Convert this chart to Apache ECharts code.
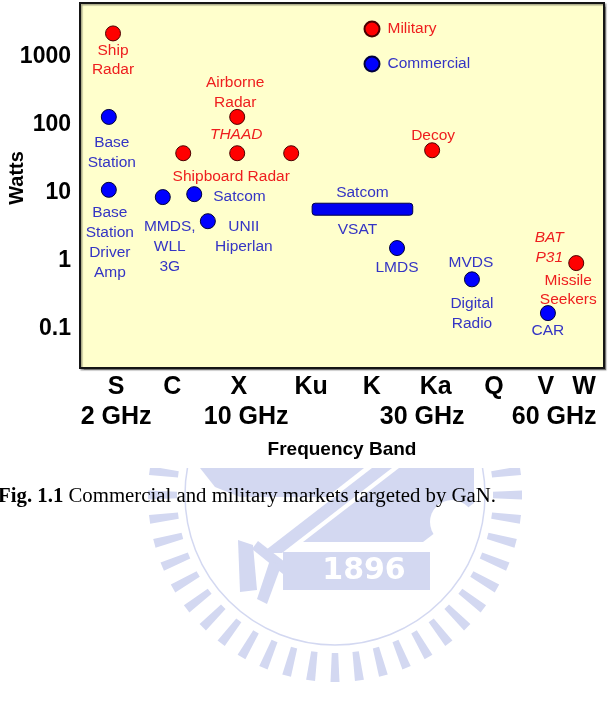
<!DOCTYPE html>
<html><head><meta charset="utf-8">
<script src="https://cdn.jsdelivr.net/npm/echarts@6/dist/echarts.min.js"></script>
<style>html,body{margin:0;padding:0;background:#fff}#c{width:609px;height:725px}</style>
</head><body><div id="c"></div>
<script>
// ---- data ----
const bandLabels = ['S','C','X','Ku','K','Ka','Q','V','W'];
const bandTickPos = [6.9,17.6,30.3,44.1,55.7,67.9,79.0,88.9,96.2];
const ghzLabels = ['2 GHz','10 GHz','30 GHz','60 GHz'];
const ghzTickPos = [6.9,31.7,65.3,90.5];
const wattTicks = [0.1,1,10,100,1000];
const wattTickLabels = ['0.1','1','10','100','1000'];

const militaryNames = ['Ship Radar','Airborne Radar','Shipboard Radar C','Shipboard Radar X','Shipboard Radar Ku','Decoy','BAT P31'];
const militaryBand  = [6.3,30.0,19.7,30.0,40.3,67.2,94.7];
const militaryWatts = [2200,130,38,38,38,42,0.92];

const commercialNames = ['Base Station','Base Station Driver Amp','MMDS','Satcom C','UNII','LMDS','MVDS','CAR'];
const commercialBand  = [5.5,5.5,15.8,21.8,24.4,60.5,74.8,89.3];
const commercialWatts = [130,11,8.6,9.5,3.8,1.53,0.53,0.169];

const vsatName = 'Satcom VSAT';
const vsatBandRange = [44.3,63.5];
const vsatWatts = 5.7;

// ---- styles ----
const RED = '#ee1e1e', BLUE = '#3434c4';
const SANS = '"Liberation Sans", Arial, sans-serif';
const SERIF = '"Liberation Serif", "Times New Roman", serif';

const annotations = [
  {at:'Ship Radar', text:'Ship\nRadar', dx:0, dy:27, lh:19},
  {at:'Base Station', text:'Base\nStation', dx:3, dy:36},
  {at:'Base Station Driver Amp', text:'Base\nStation\nDriver\nAmp', dx:1, dy:53},
  {at:'Airborne Radar', text:'Airborne\nRadar', dx:-2, dy:-24},
  {at:'Airborne Radar', text:'THAAD', dx:-1, dy:18, italic:true},
  {at:'Shipboard Radar X', text:'Shipboard Radar', dx:-6, dy:23},
  {at:'MMDS', text:'MMDS,\nWLL\n3G', dx:7, dy:50},
  {at:'Satcom C', text:'Satcom', dx:19, dy:3, align:'left'},
  {at:'UNII', text:'UNII\nHiperlan', dx:36, dy:16},
  {at:'Decoy', text:'Decoy', dx:1, dy:-15},
  {at:vsatName, text:'Satcom', dx:0, dy:-17},
  {at:vsatName, text:'VSAT', dx:-5, dy:20},
  {at:'LMDS', text:'LMDS', dx:0, dy:20},
  {at:'MVDS', text:'MVDS', dx:-1, dy:-17},
  {at:'MVDS', text:'Digital\nRadio', dx:0, dy:34},
  {at:'BAT P31', text:'BAT\nP31', dx:-27, dy:-15, italic:true},
  {at:'BAT P31', text:'Missile\nSeekers', dx:-8, dy:27, lh:19},
  {at:'CAR', text:'CAR', dx:0, dy:18}
];

function lookup(list, labels, v, logCmp) {
  for (let i = 0; i < list.length; i++) {
    const a = logCmp ? Math.log10(list[i]) : list[i];
    const b = logCmp ? Math.log10(v) : v;
    if (Math.abs(a - b) < 1e-6) return labels[i];
  }
  return '';
}

// ---- watermark (decorative) ----
function watermark() {
  const col = '#d3d8f1', cx = 335, cy = 495;
  const els = [];
  for (let a = 0; a < 360; a += 7.5) {
    const t = a * Math.PI / 180, c = Math.cos(t), s = Math.sin(t);
    const r1 = 158, r2 = 187, w1 = 3.2, w2 = 4.5;
    els.push({type:'polygon', z:-3, silent:true, shape:{points:[
      [cx + c*r1 - s*w1, cy + s*r1 + c*w1], [cx + c*r2 - s*w2, cy + s*r2 + c*w2],
      [cx + c*r2 + s*w2, cy + s*r2 - c*w2], [cx + c*r1 + s*w1, cy + s*r1 - c*w1]]},
      style:{fill:col}});
  }
  els.push({type:'circle', z:-3, silent:true, shape:{cx:cx, cy:cy, r:150}, style:{fill:'none', stroke:col, lineWidth:1.5}});
  els.push({type:'polygon', z:-3, silent:true, shape:{points:[[200,468],[364,468],[327,497],[240,497],[215,487]]}, style:{fill:col}});
  els.push({type:'polygon', z:-3, silent:true, shape:{points:[[372,468],[392,468],[282,553],[262,553]]}, style:{fill:col}});
  els.push({type:'polygon', z:-3, silent:true, shape:{points:[[399,468],[474,468],[474,503],[423,542],[303,542]]}, style:{fill:col}});
  els.push({type:'circle', z:-3, silent:true, shape:{cx:452, cy:522, r:22}, style:{fill:'#fff'}});
  els.push({type:'polygon', z:-3, silent:true, shape:{points:[[238,540],[253,545],[257,590],[240,592]]}, style:{fill:col}});
  els.push({type:'polygon', z:-3, silent:true, shape:{points:[[258,541],[290,566],[283,574],[252,549]]}, style:{fill:col}});
  els.push({type:'polygon', z:-3, silent:true, shape:{points:[[270,560],[281,566],[267,604],[257,599]]}, style:{fill:col}});
  els.push({type:'rect', z:-3, silent:true, shape:{x:283, y:552, width:147, height:38}, style:{fill:col}});
  els.push({type:'text', z:-3, silent:true, style:{text:'1896', x:364, y:571, align:'center', verticalAlign:'middle',
    fill:'#fff', font:'bold 30px "DejaVu Sans", sans-serif'}});
  // mask: watermark only visible below the figure
  els.push({type:'rect', z:-2, silent:true, shape:{x:0, y:0, width:609, height:468}, style:{fill:'#fff'}});
  return els;
}

const chart = echarts.init(document.getElementById('c'), null, {renderer:'canvas'});

const option = {
  backgroundColor:'#fff',
  animation:false,
  grid:{left:80, top:3, right:5, bottom:357, show:true, backgroundColor:'#ffffcc',
        borderColor:'#151515', borderWidth:2, containLabel:false, outerBoundsMode:'none',
        shadowColor:'rgba(0,0,0,0.35)', shadowOffsetX:1.5, shadowOffsetY:1.5, shadowBlur:1},
  legend:{
    orient:'vertical', left:363.5, top:20.5, padding:0, itemWidth:15, itemHeight:15, itemGap:18,
    icon:'circle', selectedMode:false,
    textStyle:{fontFamily:SANS, fontSize:15.5, padding:[0,0,0,3]},
    data:[{name:'Military', textStyle:{color:RED}}, {name:'Commercial', textStyle:{color:BLUE}}]
  },
  xAxis:[
    {type:'value', min:0, max:100, position:'bottom',
     axisLine:{show:false}, axisTick:{show:false}, splitLine:{show:false},
     axisLabel:{customValues:bandTickPos, margin:7, color:'#000', fontFamily:SANS, fontWeight:'bold', fontSize:25,
       formatter:v => lookup(bandTickPos, bandLabels, v, false)},
     name:'Frequency Band', nameLocation:'middle', nameGap:72, nameMoveOverlap:false,
     nameTextStyle:{color:'#000', fontFamily:SANS, fontWeight:'bold', fontSize:19}},
    {type:'value', min:0, max:100, position:'bottom', offset:30,
     axisLine:{show:false}, axisTick:{show:false}, splitLine:{show:false},
     axisLabel:{customValues:ghzTickPos, margin:7, color:'#000', fontFamily:SANS, fontWeight:'bold', fontSize:25,
       formatter:v => lookup(ghzTickPos, ghzLabels, v, false)}}
  ],
  yAxis:{
    type:'log', logBase:10, min:Math.pow(10,-1.58), max:Math.pow(10,3.79),
    axisLine:{show:false}, axisTick:{show:false}, splitLine:{show:false},
    axisLabel:{margin:9, color:'#000', fontFamily:SANS, fontWeight:'bold', fontSize:23,
      showMinLabel:false, showMaxLabel:false,
      formatter:v => lookup(wattTicks, wattTickLabels, v, true)},
    name:'Watts', nameLocation:'middle', nameGap:53, nameRotate:90, nameMoveOverlap:false,
    nameTextStyle:{color:'#000', fontFamily:SANS, fontWeight:'bold', fontSize:20, padding:[0,0,0,15]}
  },
  series:[
    {name:'Military', type:'scatter', symbol:'circle', symbolSize:15, z:3,
     itemStyle:{color:'#ff0000', borderColor:'#4a0000', borderWidth:1, opacity:1},
     data:militaryNames.map((n,i) => ({name:n, value:[militaryBand[i], militaryWatts[i]]}))},
    {name:'Commercial', type:'scatter', symbol:'circle', symbolSize:15, z:3,
     itemStyle:{color:'#0000ff', borderColor:'#00003a', borderWidth:1, opacity:1},
     data:commercialNames.map((n,i) => ({name:n, value:[commercialBand[i], commercialWatts[i]]}))},
    {name:vsatName, type:'custom', z:3,
     encode:{x:[0,1], y:2},
     data:[[vsatBandRange[0], vsatBandRange[1], vsatWatts]],
     renderItem:(params, api) => {
       const p1 = api.coord([api.value(0), api.value(2)]);
       const p2 = api.coord([api.value(1), api.value(2)]);
       return {type:'rect', shape:{x:p1[0], y:p1[1]-6, width:p2[0]-p1[0], height:12, r:3},
               style:{fill:'#0000f0', stroke:'#00004a', lineWidth:1}};
     }}
  ],
  graphic:{elements:watermark()}
};
chart.setOption(option);

// ---- annotation texts anchored on the data points through the axes ----
const anchors = {};
militaryNames.forEach((n,i) => anchors[n] = {v:[militaryBand[i], militaryWatts[i]], c:RED});
commercialNames.forEach((n,i) => anchors[n] = {v:[commercialBand[i], commercialWatts[i]], c:BLUE});
anchors[vsatName] = {v:[(vsatBandRange[0]+vsatBandRange[1])/2, vsatWatts], c:BLUE};

const textEls = annotations.map(a => {
  const an = anchors[a.at];
  const p = chart.convertToPixel({xAxisIndex:0, yAxisIndex:0}, an.v);
  return {type:'text', z:10, silent:true, style:{
    text:a.text, x:p[0] + a.dx, y:p[1] + a.dy, align:a.align || 'center', verticalAlign:'middle',
    fill:an.c, fontFamily:SANS, fontSize:15.5, fontStyle:a.italic ? 'italic' : 'normal',
    lineHeight:a.lh || 20}};
});
textEls.push({type:'text', z:10, silent:true, style:{
  text:'{b|Fig. 1.1} Commercial and military markets targeted by GaN.', x:-2, y:497,
  verticalAlign:'middle', fill:'#000', fontFamily:SERIF, fontSize:20.8,
  rich:{b:{fontFamily:SERIF, fontSize:20.8, fontWeight:'bold', fill:'#000'}}}});

chart.setOption({graphic:{elements:watermark().concat(textEls)}}, {replaceMerge:['graphic']});
</script>
</body></html>
